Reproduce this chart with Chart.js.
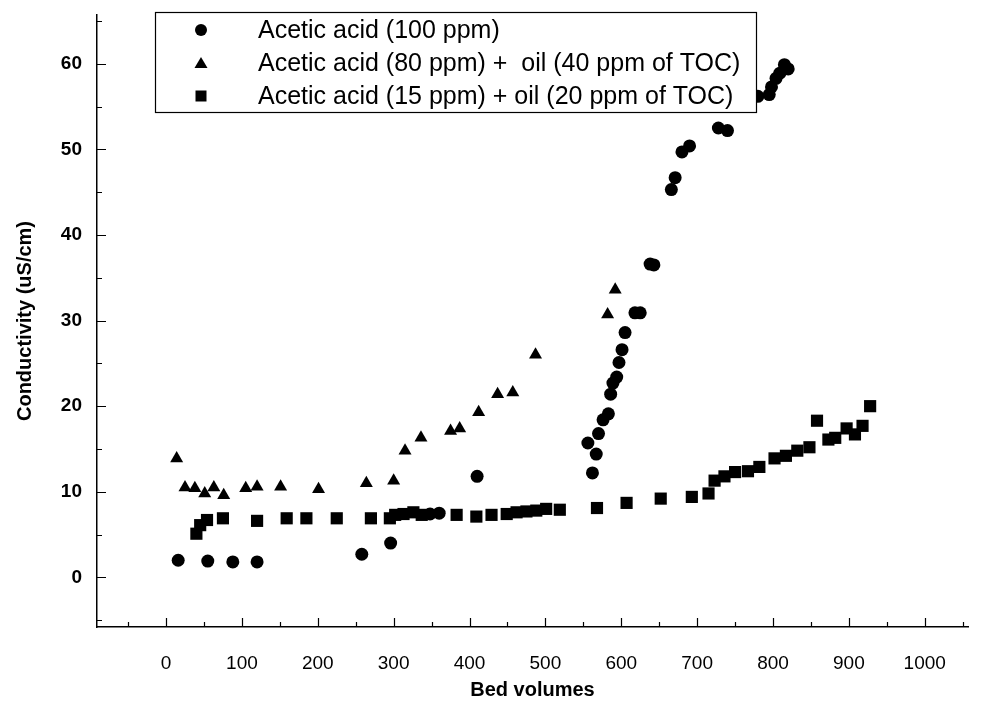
<!DOCTYPE html>
<html>
<head>
<meta charset="utf-8">
<script src="https://cdn.jsdelivr.net/npm/chart.js"></script>
<style>
  html, body { margin: 0; padding: 0; background: #fff; }
  #wrap { width: 982px; height: 708px; }
</style>
</head>
<body>
<div id="wrap"><canvas id="chart" width="982" height="708"></canvas></div>
<script>
// Conductividad vs. volúmenes de lecho, tres ensayos.
const X_TICKS = [0, 100, 200, 300, 400, 500, 600, 700, 800, 900, 1000];
const Y_TICKS = [0, 10, 20, 30, 40, 50, 60];

const SERIES_LABELS = [
  'Acetic acid (100 ppm)',
  'Acetic acid (80 ppm) +  oil (40 ppm of TOC)',
  'Acetic acid (15 ppm) + oil (20 ppm of TOC)',
];

const ACETIC_X = [16, 55, 88, 120, 258, 296, 348, 360, 410, 556, 562, 567, 570, 576, 583, 586, 589, 594,
  597, 601, 605, 618, 625, 638, 643, 666, 671, 680, 690, 728, 740, 780, 795, 798, 804, 809, 815, 820];
const ACETIC_Y = [2.0, 1.9, 1.8, 1.8, 2.7, 4.0, 7.4, 7.5, 11.8, 15.7, 12.2, 14.4, 16.8, 18.4, 19.1, 21.4, 22.7, 23.4,
  25.1, 26.6, 28.6, 30.9, 30.9, 36.6, 36.5, 45.3, 46.7, 49.7, 50.4, 52.5, 52.2, 56.2, 56.4, 57.3, 58.3, 58.9, 59.9, 59.4];

const OIL40_X = [14, 25, 38, 51, 63, 76, 105, 120, 151, 201, 264, 300, 315, 336, 375, 387, 412, 437, 457, 487, 582, 592];
const OIL40_Y = [13.9, 10.5, 10.4, 9.8, 10.5, 9.6, 10.4, 10.6, 10.6, 10.3, 11.0, 11.3, 14.8, 16.3, 17.1, 17.4, 19.3,
  21.4, 21.6, 26.0, 30.7, 33.6];

const OIL20_X = [40, 45, 54, 75, 120, 159, 185, 225, 270, 295, 302, 313, 326, 337, 383, 409, 429, 449, 462, 475, 488,
  501, 519, 568, 607, 652, 693, 715, 723, 736, 750, 767, 782, 802, 817, 832, 848, 858, 873, 882, 897, 908, 918, 928];
const OIL20_Y = [5.1, 6.1, 6.7, 6.9, 6.6, 6.9, 6.9, 6.9, 6.9, 6.9, 7.3, 7.4, 7.6, 7.3, 7.3, 7.1, 7.3, 7.4, 7.6, 7.7, 7.8,
  8.0, 7.9, 8.1, 8.7, 9.2, 9.4, 9.8, 11.3, 11.8, 12.3, 12.4, 12.9, 13.9, 14.2, 14.8, 15.2, 18.3, 16.1, 16.3, 17.4, 16.7,
  17.7, 20.0];

const toPoints = (xs, ys) => xs.map((x, i) => ({ x, y: ys[i] }));

// Marcas de eje hacia dentro (mayores cada 100 / 10, menores a la mitad).
const innerTicks = {
  id: 'innerTicks',
  afterDraw(chart) {
    const { ctx, scales: { x, y } } = chart;
    ctx.save();
    ctx.strokeStyle = '#000';
    ctx.lineWidth = 1.2;
    ctx.beginPath();
    for (let v = -50; v <= 1050; v += 50) {
      const px = Math.round(x.getPixelForValue(v)) + 0.5;
      const len = v % 100 === 0 ? 9 : 5;
      ctx.moveTo(px, y.bottom);
      ctx.lineTo(px, y.bottom - len);
    }
    for (let v = -5; v <= 65; v += 5) {
      const py = Math.round(y.getPixelForValue(v)) + 0.5;
      const len = v % 10 === 0 ? 9 : 5;
      ctx.moveTo(x.left, py);
      ctx.lineTo(x.left + len, py);
    }
    ctx.stroke();
    ctx.restore();
  },
};

// Leyenda en recuadro, dibujada encima de los puntos.
const boxLegend = {
  id: 'boxLegend',
  afterDraw(chart) {
    const { ctx } = chart;
    const box = { left: 155, top: 12, width: 601, height: 100 };
    const rows = [30, 63, 96];
    ctx.save();
    ctx.fillStyle = '#fff';
    ctx.fillRect(box.left, box.top, box.width, box.height);
    ctx.strokeStyle = '#000';
    ctx.lineWidth = 1.2;
    ctx.strokeRect(box.left + 0.5, box.top + 0.5, box.width, box.height);
    ctx.fillStyle = '#000';
    ctx.font = '25px "Liberation Sans", Arial, sans-serif';
    ctx.textBaseline = 'middle';
    chart.data.datasets.forEach((ds, i) => {
      const cy = rows[i], cx = 201;
      ctx.beginPath();
      if (ds.pointStyle === 'circle') {
        ctx.arc(cx, cy, 6, 0, Math.PI * 2);
      } else if (ds.pointStyle === 'triangle') {
        ctx.moveTo(cx, cy - 6);
        ctx.lineTo(cx + 6.5, cy + 5);
        ctx.lineTo(cx - 6.5, cy + 5);
        ctx.closePath();
      } else {
        ctx.rect(cx - 5.5, cy - 5.5, 11, 11);
      }
      ctx.fill();
      ctx.fillText(ds.label, 258, cy + 1);
    });
    ctx.restore();
  },
};

const commonDs = { backgroundColor: '#000', borderColor: '#000', borderWidth: 0, showLine: false };

new Chart(document.getElementById('chart'), {
  type: 'scatter',
  data: {
    datasets: [
      { ...commonDs, label: SERIES_LABELS[0], data: toPoints(ACETIC_X, ACETIC_Y), pointStyle: 'circle', pointRadius: 6.5 },
      { ...commonDs, label: SERIES_LABELS[1], data: toPoints(OIL40_X, OIL40_Y), pointStyle: 'triangle', pointRadius: 7.5 },
      { ...commonDs, label: SERIES_LABELS[2], data: toPoints(OIL20_X, OIL20_Y), pointStyle: 'rect', pointRadius: 8.6 },
    ],
  },
  options: {
    responsive: false, animation: false, devicePixelRatio: 1,
    layout: { padding: { top: 15, right: 14, left: 0, bottom: 0 } },
    plugins: { legend: { display: false }, tooltip: { enabled: false } },
    scales: {
      x: {
        type: 'linear', min: -91, max: 1057,
        afterBuildTicks: s => { s.ticks = X_TICKS.map(v => ({ value: v })); },
        afterFit: s => { s.height = 81; },
        grid: { drawOnChartArea: false, drawTicks: false },
        border: { color: '#000', width: 1.5 },
        ticks: {
          color: '#000', padding: 25, maxRotation: 0, autoSkip: false,
          callback: v => String(v),
          font: { family: '"Liberation Sans Narrow", "Liberation Sans", Arial', size: 19 },
        },
        title: {
          display: true, text: 'Bed volumes', color: '#000',
          font: { family: '"Liberation Sans", Arial', size: 20, weight: 'bold' },
          padding: { top: 0, bottom: 6 },
        },
      },
      y: {
        type: 'linear', min: -5.8, max: 65.7,
        afterBuildTicks: s => { s.ticks = Y_TICKS.map(v => ({ value: v })); },
        afterFit: s => { s.width = 97; s.paddingTop = 0; s.paddingBottom = 0; },
        grid: { drawOnChartArea: false, drawTicks: false },
        border: { color: '#000', width: 1.5 },
        ticks: {
          color: '#000', padding: 15,
          font: { family: '"Liberation Sans", Arial', size: 19, weight: 'bold' },
        },
        title: {
          display: true, text: 'Conductivity (uS/cm)', color: '#000',
          font: { family: '"Liberation Sans", Arial', size: 20, weight: 'bold' },
          padding: { top: 13, bottom: 0 },
        },
      },
    },
  },
  plugins: [innerTicks, boxLegend],
});
</script>
</body>
</html>
